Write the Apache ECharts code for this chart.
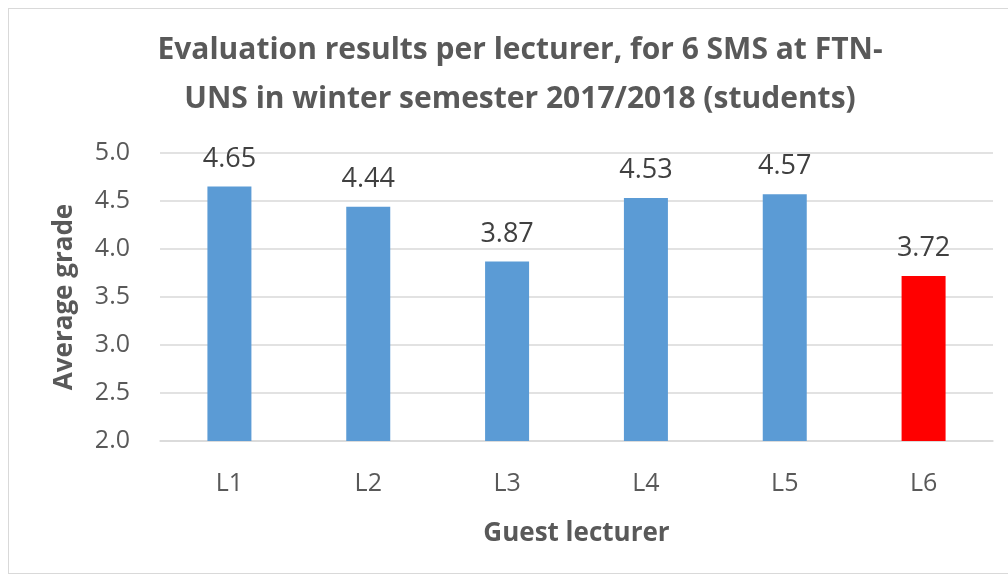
<!DOCTYPE html>
<html>
<head>
<meta charset="utf-8">
<script src="https://cdn.jsdelivr.net/npm/echarts@6/dist/echarts.min.js"></script>
<style>
  html, body { margin: 0; padding: 0; background: #fff; }
  #frame { position: absolute; left: 8px; top: 8px; width: 1010px; height: 566px; border: 1px solid #d9d9d9; box-sizing: border-box; }
  #chart { position: absolute; left: 0; top: 0; width: 1008px; height: 578px; }
</style>
</head>
<body>
<div id="frame"></div>
<div id="chart"></div>
<script>
const lecturers = ['L1', 'L2', 'L3', 'L4', 'L5', 'L6'];
const grades = [4.65, 4.44, 3.87, 4.53, 4.57, 3.72];
const barColors = ['#5b9bd5', '#5b9bd5', '#5b9bd5', '#5b9bd5', '#5b9bd5', '#ff0000'];

const FONT = '"Open Sans", sans-serif';

const chart = echarts.init(document.getElementById('chart'));
chart.setOption({
  animation: false,
  title: {
    text: 'Evaluation results per lecturer, for 6 SMS at FTN-\nUNS in winter semester 2017/2018 (students)',
    left: 515,
    textAlign: 'center',
    top: 21,
    textStyle: {
      fontFamily: FONT,
      fontWeight: 'bold',
      fontSize: 30,
      lineHeight: 49,
      color: '#595959'
    }
  },
  grid: { left: 160, right: 15, top: 153, bottom: 137 },
  xAxis: {
    type: 'category',
    data: lecturers,
    name: 'Guest lecturer',
    nameLocation: 'middle',
    nameGap: 80,
    nameTextStyle: { fontFamily: FONT, fontWeight: 'bold', fontSize: 26, color: '#595959' },
    axisLine: { lineStyle: { color: '#d9d9d9', width: 1.5 } },
    axisTick: { show: false },
    axisLabel: { fontFamily: FONT, fontSize: 25, color: '#595959', margin: 30 }
  },
  yAxis: {
    type: 'value',
    min: 2,
    max: 5,
    interval: 0.5,
    name: 'Average grade',
    nameLocation: 'middle',
    nameGap: 82,
    nameTextStyle: { fontFamily: FONT, fontWeight: 'bold', fontSize: 26, color: '#595959' },
    axisLine: { show: false },
    axisTick: { show: false },
    splitLine: { lineStyle: { color: '#d9d9d9', width: 1.5 } },
    axisLabel: {
      fontFamily: FONT, fontSize: 25, color: '#595959', margin: 30,
      formatter: v => v.toFixed(1)
    }
  },
  series: [{
    type: 'bar',
    barWidth: 44,
    data: grades.map((v, i) => ({ value: v, itemStyle: { color: barColors[i] } })),
    label: {
      show: true,
      position: 'top',
      distance: 14,
      fontFamily: FONT,
      fontSize: 27,
      color: '#404040',
      formatter: p => p.value.toFixed(2)
    }
  }]
});
</script>
</body>
</html>
